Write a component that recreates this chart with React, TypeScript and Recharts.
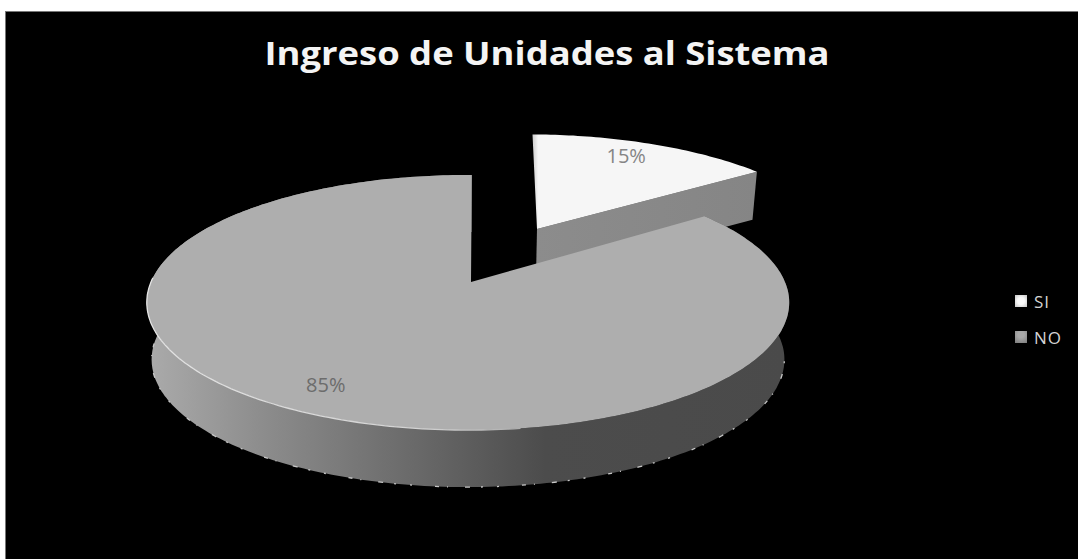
import React from 'react';
import { PieChart, Pie, Legend } from 'recharts';

const categories = ['SI', 'NO'];
const shares = [15, 85];
const chartTitle = 'Ingreso de Unidades al Sistema';

const rows = categories.map((name, i) => ({ name, value: shares[i] }));

// Perspective of the tilted disc
const PERSPECTIVE = 0.161;
const SQUASH = 0.392;
const EXPLODE = [0.515, 0];
const GROW = [1.01, 1];
const DEPTH = [48, 57];
const WALL_INSET = 0.985;
// Small turn of each wedge's two straight edges, in degrees
const TURN_FROM = [1, 0.7];
const TURN_TO = [1.2, 0.8];
// Shift of the main wedge's tip towards the notch
const APEX_SHIFT = [0, 3];
const LABEL_RADIUS = [0.836, 0.83];
const LABEL_TURN = [-1.3, 1.5];

const project = (cx: number, cy: number, r: number, u: number, v: number) => {
  const w = 1 + PERSPECTIVE * v;
  return [cx + (r * u) / w, cy - (r * SQUASH * v) / w];
};

const rad = (d: number) => (d * Math.PI) / 180;

const slicePoint = (p: any, i: number, bearing: number, radial: number) => {
  const mid = rad(90 - (p.startAngle + p.endAngle) / 2);
  const u = EXPLODE[i] * Math.sin(mid) + radial * GROW[i] * Math.sin(rad(bearing));
  const v = EXPLODE[i] * Math.cos(mid) + radial * GROW[i] * Math.cos(rad(bearing));
  return project(p.cx, p.cy, p.outerRadius, u, v);
};

const rim = (p: any, i: number, from: number, to: number) => {
  const n = Math.max(8, Math.round(Math.abs(to - from)));
  const pts: number[][] = [];
  for (let k = 0; k <= n; k++) pts.push(slicePoint(p, i, from + ((to - from) * k) / n, 1));
  return pts;
};

const toPath = (pts: number[][]) =>
  pts.map((q, k) => `${k ? 'L' : 'M'}${q[0].toFixed(1)} ${q[1].toFixed(1)}`).join(' ');

const lowered = (pts: number[][], cx: number, depth: number) =>
  pts.map((q) => [cx + (q[0] - cx) * WALL_INSET, q[1] + depth]);

// One wedge of the disc: its visible wall first, then the flat top face
const DiscSlice = (props: any) => {
  const i = categories.indexOf(props.name);
  const from = 90 - props.startAngle + TURN_FROM[i];
  const to = 90 - props.endAngle + TURN_TO[i];
  const edge = rim(props, i, from, to);
  const tip = slicePoint(props, i, 0, 0);
  const apex = [tip[0] + APEX_SHIFT[i], tip[1]];
  const face = `${toPath([apex, ...edge])} Z`;
  if (i === 0) {
    const outer = edge[edge.length - 1];
    const side = [apex, outer, ...lowered([outer, apex], props.cx, DEPTH[i])];
    return (
      <g>
        <path d={`${toPath(side)} Z`} fill="url(#siWall)" />
        <path d={face} fill="url(#siFace)" />
      </g>
    );
  }
  const base = lowered(edge, props.cx, DEPTH[i]);
  const wall = `${toPath(edge)} ${toPath(base.slice().reverse()).replace('M', 'L')} Z`;
  const frontBase = lowered(rim(props, i, 100, 268), props.cx, DEPTH[i]);
  return (
    <g>
      <path d={wall} fill="url(#noWall)" />
      <path d={toPath(frontBase)} fill="none" stroke="#c8c8c8" strokeWidth={1.3} strokeDasharray="2 11 5 17 1 8 4 23 2 14" />
      <path d={face} fill="#aeaeae" />
      <path d={toPath(rim(props, i, 172, 272))} fill="none" stroke="url(#noRim)" strokeWidth={1.3} />
    </g>
  );
};

// Percent label sitting on the top face of its wedge
const FaceLabel = (props: any) => {
  const i = categories.indexOf(props.name);
  const mid = 90 - (props.startAngle + props.endAngle) / 2 + LABEL_TURN[i];
  const [x, y] = slicePoint(props, i, mid, LABEL_RADIUS[i] / GROW[i]);
  return (
    <text x={x} y={y} textAnchor="middle" dominantBaseline="central" fontFamily="Open Sans" fontSize={20} fill={i === 0 ? '#858585' : '#6c6c6c'}>
      {`${shares[i]}%`}
    </text>
  );
};

const KeyList = ({ payload }: any) => (
  <div style={{ fontFamily: 'Open Sans', fontSize: 17, letterSpacing: 1, color: '#d4d4d4' }}>
    {(payload || []).map((entry: any) => (
      <div key={entry.value} style={{ display: 'flex', alignItems: 'center', height: 12, marginBottom: 24 }}>
        <span
          style={{
            width: 12,
            height: 12,
            marginRight: 7,
            background:
              entry.value === categories[0]
                ? 'radial-gradient(circle, #fafafa 40%, #c4c4c4 100%)'
                : 'radial-gradient(circle at 50% 30%, #a8a8a8 30%, #7c7c7c 100%)',
          }}
        />
        {entry.value}
      </div>
    ))}
  </div>
);

export default function App() {
  return (
    <div style={{ position: 'absolute', left: 0, top: 0, width: 1078, height: 559, background: '#fff', overflow: 'hidden' }}>
      <div style={{ position: 'absolute', left: 5, top: 11, right: 0, bottom: 0, background: '#000', borderLeft: '1px solid #777', borderTop: '1px solid #777' }} />
      <div style={{ position: 'absolute', left: 0, top: 0 }}>
        <PieChart width={1078} height={559} margin={{ top: 0, right: 0, bottom: 0, left: 0 }}>
          <defs>
            <linearGradient id="noWall" x1="0" y1="0" x2="1" y2="0">
              <stop offset="0" stopColor="#ababab" />
              <stop offset="0.17" stopColor="#8e8e8e" />
              <stop offset="0.46" stopColor="#636363" />
              <stop offset="0.62" stopColor="#4c4c4c" />
              <stop offset="1" stopColor="#4a4a4a" />
            </linearGradient>
            <linearGradient id="noRim" gradientUnits="userSpaceOnUse" x1="146" y1="0" x2="520" y2="0">
              <stop offset="0" stopColor="#e4e4e4" />
              <stop offset="0.75" stopColor="#d2d2d2" />
              <stop offset="1" stopColor="#aeaeae" />
            </linearGradient>
            <linearGradient id="siWall" x1="0" y1="0" x2="1" y2="0">
              <stop offset="0" stopColor="#8c8c8c" />
              <stop offset="1" stopColor="#858585" />
            </linearGradient>
            <linearGradient id="siFace" x1="0" y1="0" x2="1" y2="0">
              <stop offset="0" stopColor="#cdcdcd" />
              <stop offset="0.025" stopColor="#f6f6f6" />
              <stop offset="1" stopColor="#f6f6f6" />
            </linearGradient>
          </defs>
          <text x={547} y={65} textAnchor="middle" fontFamily="Open Sans" fontWeight={700} fontSize={32} fill="#f4f4f4" textLength={565} lengthAdjust="spacingAndGlyphs">
            {chartTitle}
          </text>
          <Pie
            data={rows}
            dataKey="value"
            nameKey="name"
            cx={468}
            cy={282}
            innerRadius={0}
            outerRadius={317}
            startAngle={90}
            endAngle={-270}
            stroke="none"
            isAnimationActive={false}
            shape={DiscSlice}
            label={FaceLabel}
            labelLine={false}
          />
          <Legend
            layout="vertical"
            content={KeyList}
            itemSorter={null}
            wrapperStyle={{ position: 'absolute', left: 1015, top: 295, width: 60, height: 60 }}
          />
        </PieChart>
      </div>
    </div>
  );
}
